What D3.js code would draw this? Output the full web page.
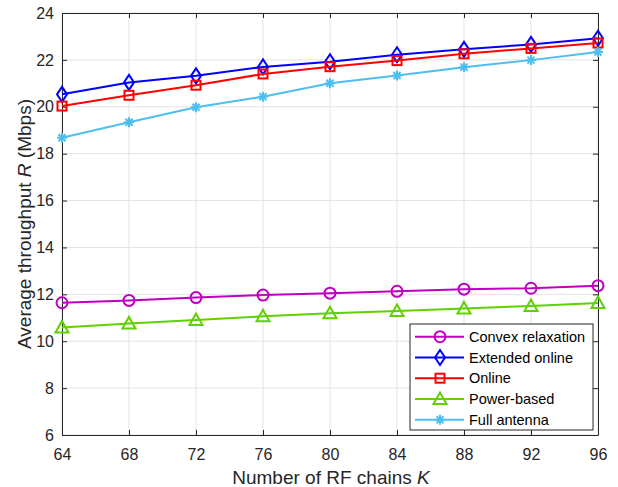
<!DOCTYPE html>
<html>
<head>
<meta charset="utf-8">
<script src="https://cdn.jsdelivr.net/npm/d3@7"></script>
<style>
  body { margin: 0; background: #fff; }
  svg { display: block; font-family: "Liberation Sans", Arial, sans-serif; }
</style>
</head>
<body>
<svg id="chart" width="618" height="487"></svg>
<script>
// Number of RF chains
const chains = [64, 68, 72, 76, 80, 84, 88, 92, 96];

// Average throughput (Mbps) per scheme
const convexRelaxation = [11.64, 11.74, 11.86, 11.97, 12.05, 12.13, 12.22, 12.26, 12.37];
const extendedOnline   = [20.53, 21.04, 21.32, 21.70, 21.92, 22.22, 22.45, 22.66, 22.92];
const online           = [20.03, 20.49, 20.92, 21.40, 21.71, 21.97, 22.26, 22.49, 22.72];
const powerBased       = [10.59, 10.76, 10.90, 11.06, 11.19, 11.29, 11.40, 11.50, 11.63];
const fullAntenna      = [18.68, 19.34, 19.98, 20.43, 21.00, 21.33, 21.69, 21.99, 22.34];

const seriesNames = ["Convex relaxation", "Extended online", "Online", "Power-based", "Full antenna"];
const xTicks = [64, 68, 72, 76, 80, 84, 88, 92, 96];
const yTicks = [6, 8, 10, 12, 14, 16, 18, 20, 22, 24];

const series = [
  { name: seriesNames[0], values: convexRelaxation, color: "#c000c0", marker: "circle" },
  { name: seriesNames[1], values: extendedOnline,   color: "#0000ff", marker: "diamond" },
  { name: seriesNames[2], values: online,           color: "#ff0000", marker: "square" },
  { name: seriesNames[3], values: powerBased,       color: "#5fd000", marker: "triangle" },
  { name: seriesNames[4], values: fullAntenna,      color: "#4dbeee", marker: "asterisk" }
];

const svg = d3.select("#chart");
const m = { left: 62, top: 13, right: 598, bottom: 435 };

const x = d3.scaleLinear().domain([64, 96]).range([m.left, m.right]);
const y = d3.scaleLinear().domain([6, 24]).range([m.bottom, m.top]);

const axisColor = "#262626";
const tickFont = 16;
const titleFont = 19;
const legendFont = 14.5;

// grid lines
const grid = svg.append("g").attr("stroke", "#e3e3e3").attr("stroke-width", 1);
xTicks.forEach(t => grid.append("line")
  .attr("x1", x(t)).attr("x2", x(t)).attr("y1", m.top).attr("y2", m.bottom));
yTicks.forEach(t => grid.append("line")
  .attr("x1", m.left).attr("x2", m.right).attr("y1", y(t)).attr("y2", y(t)));

// axes with inward ticks
const tickLen = 5;
const bottomAxis = d3.axisBottom(x).tickValues(xTicks).tickSizeInner(-tickLen).tickSizeOuter(0).tickPadding(14);
const leftAxis = d3.axisLeft(y).tickValues(yTicks).tickSizeInner(-tickLen).tickSizeOuter(0).tickPadding(8);
const topAxis = d3.axisTop(x).tickValues(xTicks).tickSizeInner(-tickLen).tickSizeOuter(0).tickFormat("");
const rightAxis = d3.axisRight(y).tickValues(yTicks).tickSizeInner(-tickLen).tickSizeOuter(0).tickFormat("");

function styleAxis(g) {
  g.attr("font-family", "Liberation Sans, Arial, sans-serif").attr("font-size", tickFont);
  g.selectAll("path").attr("stroke", axisColor).attr("stroke-width", 1);
  g.selectAll("line").attr("stroke", axisColor);
  g.selectAll("text").attr("fill", axisColor);
}

svg.append("g").attr("transform", `translate(0,${m.bottom})`).call(bottomAxis).call(styleAxis);
svg.append("g").attr("transform", `translate(${m.left},0)`).call(leftAxis).call(styleAxis);
svg.append("g").attr("transform", `translate(0,${m.top})`).call(topAxis).call(styleAxis);
svg.append("g").attr("transform", `translate(${m.right},0)`).call(rightAxis).call(styleAxis);

// axis titles
const xTitle = svg.append("text")
  .attr("x", (m.left + m.right) / 2 + 1).attr("y", 484)
  .attr("text-anchor", "middle").attr("font-size", titleFont).attr("fill", axisColor);
xTitle.append("tspan").text("Number of RF chains ");
xTitle.append("tspan").attr("font-style", "italic").text("K");

const yTitle = svg.append("text")
  .attr("transform", `translate(31,${(m.top + m.bottom) / 2}) rotate(-90)`)
  .attr("text-anchor", "middle").attr("font-size", titleFont).attr("fill", axisColor);
yTitle.append("tspan").text("Average throughput ");
yTitle.append("tspan").attr("font-style", "italic").text("R");
yTitle.append("tspan").text(" (Mbps)");

// marker drawing
function drawMarker(g, type, cx, cy, color) {
  const s = g.append("g").attr("transform", `translate(${cx},${cy})`)
    .attr("fill", "none").attr("stroke", color).attr("stroke-width", 2);
  if (type === "circle") {
    s.append("circle").attr("r", 5.5);
  } else if (type === "diamond") {
    s.append("path").attr("d", "M0,-7.5L5,0L0,7.5L-5,0Z");
  } else if (type === "square") {
    s.append("rect").attr("x", -4.5).attr("y", -4.5).attr("width", 9).attr("height", 9);
  } else if (type === "triangle") {
    s.append("path").attr("d", "M0,-6.5L6.5,5L-6.5,5Z");
  } else if (type === "asterisk") {
    const r = 5;
    [0, 45, 90, 135].forEach(a => {
      const rad = a * Math.PI / 180;
      s.append("line")
        .attr("x1", -r * Math.cos(rad)).attr("y1", -r * Math.sin(rad))
        .attr("x2", r * Math.cos(rad)).attr("y2", r * Math.sin(rad));
    });
  }
}

// series lines and markers
const line = d3.line().x((d, i) => x(chains[i])).y(d => y(d));
const plot = svg.append("g");
series.forEach(s => {
  plot.append("path").datum(s.values)
    .attr("d", line).attr("fill", "none")
    .attr("stroke", s.color).attr("stroke-width", 2);
  s.values.forEach((v, i) => drawMarker(plot, s.marker, x(chains[i]), y(v), s.color));
});

// legend
const lg = svg.append("g");
const lx = 410, ly = 324, lw = 183, lh = 106;
lg.append("rect").attr("x", lx).attr("y", ly).attr("width", lw).attr("height", lh)
  .attr("fill", "#fff").attr("stroke", axisColor).attr("stroke-width", 1);
series.forEach((s, i) => {
  const yy = 336.7 + i * 20.75;
  lg.append("line").attr("x1", 415).attr("x2", 464).attr("y1", yy).attr("y2", yy)
    .attr("stroke", s.color).attr("stroke-width", 2);
  drawMarker(lg, s.marker, 440, yy, s.color);
  lg.append("text").attr("x", 469).attr("y", yy + 5.2).attr("font-size", legendFont)
    .attr("fill", "#000").text(s.name);
});
</script>
</body>
</html>
